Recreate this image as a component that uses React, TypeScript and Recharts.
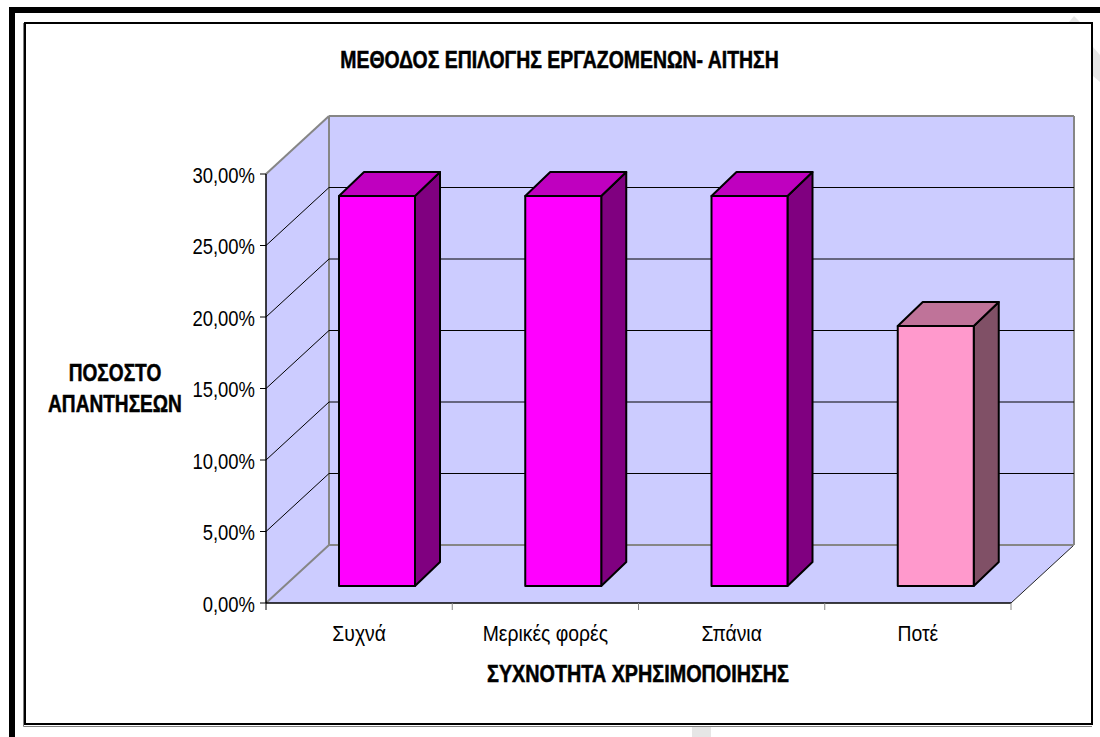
import React from 'react';
import { BarChart, Bar, XAxis, YAxis, CartesianGrid, ReferenceArea, Label } from 'recharts';

// Response shares per frequency category, in percent
const categories = ['Συχνά', 'Μερικές φορές', 'Σπάνια', 'Ποτέ'];
const shares = [27.27, 27.27, 27.27, 18.18];
const yTicks = [0, 5, 10, 15, 20, 25, 30];

const chartTitle = 'ΜΕΘΟΔΟΣ ΕΠΙΛΟΓΗΣ ΕΡΓΑΖΟΜΕΝΩΝ- ΑΙΤΗΣΗ';
const xTitle = 'ΣΥΧΝΟΤΗΤΑ ΧΡΗΣΙΜΟΠΟΙΗΣΗΣ';
const yTitleLines = ['ΠΟΣΟΣΤΟ', 'ΑΠΑΝΤΗΣΕΩΝ'];

const tableRows = categories.map((category, i) => ({ category, share: shares[i] }));

const W = 1100;
const H = 737;
const FONT = '"Liberation Sans", Arial, sans-serif';

// Oblique projection of the box: how far the back wall sits from the front plane
const DEPTH_X = 63;
const DEPTH_Y = 58;
// Bars stand part-way into the box and have their own shallower depth
const BAR_SHIFT_X = 18;
const BAR_SHIFT_Y = 17;
const BAR_DEPTH_X = 25;
const BAR_DEPTH_Y = 24;

const WALL = '#CCCCFF';
const EDGE = '#868686';
const BAR_FACES = [
  { front: '#FF00FF', top: '#BF00BF', side: '#800080' },
  { front: '#FF00FF', top: '#BF00BF', side: '#800080' },
  { front: '#FF00FF', top: '#BF00BF', side: '#800080' },
  { front: '#FF99CC', top: '#BF7399', side: '#805066' },
];

const pts = (...p: number[][]) => p.map((q) => q.join(',')).join(' ');

// Back wall, left wall and floor of the box
function Walls({ x, y, width, height }: any) {
  const b = y + height;
  const r = x + width;
  const dx = DEPTH_X;
  const dy = DEPTH_Y;
  return (
    <g>
      <polygon points={pts([x + dx, y - dy], [r + dx, y - dy], [r + dx, b - dy], [x + dx, b - dy])} fill={WALL} />
      <polygon points={pts([x, y], [x + dx, y - dy], [x + dx, b - dy], [x, b])} fill={WALL} />
      <polygon points={pts([x, b], [x + dx, b - dy], [r + dx, b - dy], [r, b])} fill={WALL} />
      <line x1={x + dx} y1={y - dy} x2={x + dx} y2={b - dy} stroke={EDGE} strokeWidth={2} />
      <line x1={r + dx} y1={y - dy} x2={r + dx} y2={b - dy} stroke={EDGE} strokeWidth={2} />
      <line x1={x} y1={y} x2={x + dx} y2={y - dy} stroke={EDGE} strokeWidth={2} />
      <line x1={x + dx} y1={y - dy} x2={r + dx} y2={y - dy} stroke={EDGE} strokeWidth={2} />
      <line x1={r} y1={b} x2={r + dx} y2={b - dy} stroke="#222" strokeWidth={1} />
    </g>
  );
}

// Each grid line runs up the left wall and then along the back wall
function GridLine({ x1, y1, x2, index }: any) {
  const isFloor = index === 0 || Math.abs(y1 - 603) < 1;
  const isTop = Math.abs(y1 - 174) < 1;
  if (isTop) return null;
  const stroke = isFloor ? EDGE : '#000';
  const sw = isFloor ? 2 : 1;
  return (
    <polyline
      points={pts([x1, y1], [x1 + DEPTH_X, y1 - DEPTH_Y], [x2 + DEPTH_X, y1 - DEPTH_Y])}
      fill="none"
      stroke={stroke}
      strokeWidth={sw}
    />
  );
}

function Bar3D({ x, y, width, height, index }: any) {
  const c = BAR_FACES[index];
  const l = x + BAR_SHIFT_X;
  const t = y - BAR_SHIFT_Y;
  const r = l + width;
  const b = t + height;
  const dx = BAR_DEPTH_X;
  const dy = BAR_DEPTH_Y;
  const line = { stroke: '#000', strokeWidth: 2, strokeLinejoin: 'round' as const };
  return (
    <g>
      <polygon points={pts([r, t], [r + dx, t - dy], [r + dx, b - dy], [r, b])} fill={c.side} {...line} />
      <polygon points={pts([l, t], [l + dx, t - dy], [r + dx, t - dy], [r, t])} fill={c.top} {...line} />
      <rect x={l} y={t} width={width} height={height} fill={c.front} {...line} />
    </g>
  );
}

function CondensedText({ x, y, children, bold, anchor = 'middle', squeeze }: any) {
  return (
    <text
      transform={`translate(${x} ${y}) scale(${squeeze} 1)`}
      textAnchor={anchor}
      fontFamily={FONT}
      fontSize={bold ? 23 : 22}
      fontWeight={bold ? 700 : 400}
      fill="#000"
      stroke={bold ? '#000' : 'none'}
      strokeWidth={bold ? 0.5 : 0}
    >
      {children}
    </text>
  );
}

// Category labels with tick marks on the band boundaries
function XTick({ x, y, payload, index }: any) {
  const half = payload.offset || 93.125;
  return (
    <g>
      <line x1={x + half} y1={603} x2={x + half} y2={610} stroke={EDGE} strokeWidth={1} />
      {index === 0 && <line x1={x - half} y1={603} x2={x - half} y2={610} stroke="#000" strokeWidth={1} />}
      <CondensedText x={x} y={y + 30} squeeze={0.88}>
        {payload.value}
      </CondensedText>
    </g>
  );
}

function YTick({ x, y, payload }: any) {
  const text = payload.value.toFixed(2).replace('.', ',') + '%';
  return (
    <CondensedText x={x - 3} y={y + 8.5} anchor="end" squeeze={0.84}>
      {text}
    </CondensedText>
  );
}

function XTitle() {
  return (
    <CondensedText x={638} y={682} bold squeeze={0.86}>
      {xTitle}
    </CondensedText>
  );
}

function YTitle() {
  return (
    <g>
      {yTitleLines.map((t, i) => (
        <CondensedText key={t} x={115} y={381 + i * 31} bold squeeze={0.83}>
          {t}
        </CondensedText>
      ))}
    </g>
  );
}

export default function App() {
  return (
    <div style={{ position: 'absolute', left: 0, top: 0, width: W, height: H, overflow: 'hidden', background: '#fff' }}>
      <svg width={W} height={H} style={{ position: 'absolute', left: 0, top: 0 }}>
        {/* faint page marks behind the frame */}
        <polygon points={pts([1069, 22], [1074, 16], [1080, 22])} fill="#e6e6e6" />
        <polygon points={pts([1093, 47], [1100, 55], [1100, 82], [1093, 76])} fill="#e6e6e6" />
        <rect x={692} y={726} width={19} height={11} fill="#e6e6e6" />
        {/* page border */}
        <rect x={9} y={7} width={1091} height={6} fill="#000" />
        <rect x={9} y={7} width={6} height={730} fill="#000" />
        {/* chart frame with its thin grey shadow on the left and bottom */}
        <polyline points={pts([23.5, 23], [23.5, 726.5], [1092, 726.5])} fill="none" stroke="#808080" strokeWidth={1} />
        <rect x={25} y={23} width={1067} height={701} fill="#fff" stroke="#000" strokeWidth={2} />
        <CondensedText x={559.5} y={68} bold squeeze={0.845}>
          {chartTitle}
        </CondensedText>
      </svg>
      <div style={{ position: 'absolute', left: 0, top: 0 }}>
        <BarChart
          width={W}
          height={H}
          data={tableRows}
          margin={{ top: 174, right: 89, bottom: 0, left: 0 }}
          style={{ background: 'transparent' }}
        >
          <ReferenceArea y1={0} y2={30} shape={<Walls />} ifOverflow="visible" zIndex={-200} />
          <CartesianGrid vertical={false} horizontal={(p: any) => <GridLine key={p.key} {...p} />} />
          <XAxis
            dataKey="category"
            height={134}
            interval={0}
            axisLine={{ stroke: '#000', strokeWidth: 1.5 }}
            tickLine={false}
            tick={(p: any) => <XTick {...p} />}
          >
            <Label content={<XTitle />} />
          </XAxis>
          <YAxis
            width={266}
            domain={[0, 30]}
            ticks={yTicks}
            interval={0}
            axisLine={{ stroke: '#000', strokeWidth: 1.5 }}
            tickLine={{ stroke: '#000', strokeWidth: 1 }}
            tickSize={6}
            tick={(p: any) => <YTick {...p} />}
          >
            <Label content={<YTitle />} />
          </YAxis>
          <Bar dataKey="share" barSize={76} isAnimationActive={false} shape={(p: any) => <Bar3D {...p} />} />
        </BarChart>
      </div>
    </div>
  );
}
